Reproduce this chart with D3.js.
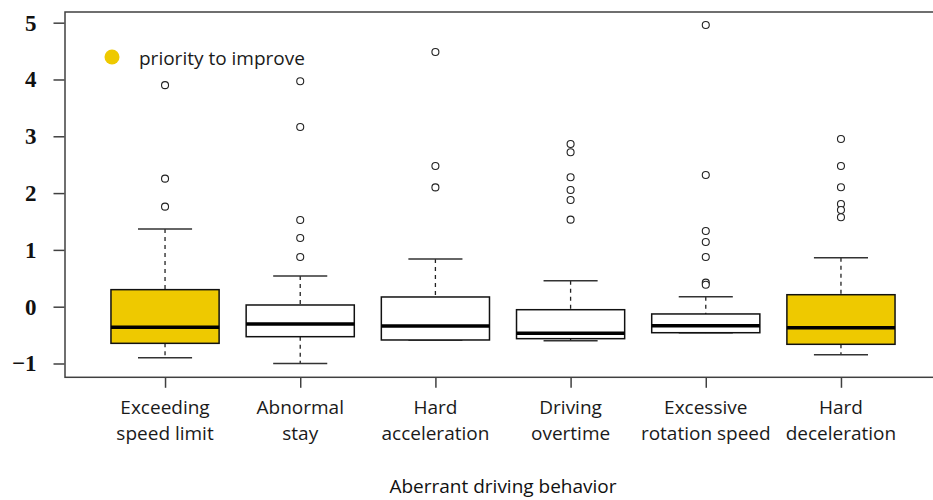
<!DOCTYPE html>
<html>
<head>
<meta charset="utf-8">
<script src="https://cdn.jsdelivr.net/npm/d3@7"></script>
<style>
  html, body { margin: 0; padding: 0; background: #fff; }
  svg { display: block; }
</style>
</head>
<body>
<svg id="chart" width="933" height="500"></svg>
<script>
// Aberrant driving behaviour scores, one boxplot per behaviour
const categories = [
  "Exceeding speed limit",
  "Abnormal stay",
  "Hard acceleration",
  "Driving overtime",
  "Excessive rotation speed",
  "Hard deceleration"
];
const labelLine1 = ["Exceeding", "Abnormal", "Hard", "Driving", "Excessive", "Hard"];
const labelLine2 = ["speed limit", "stay", "acceleration", "overtime", "rotation speed", "deceleration"];

const whiskerLow  = [-0.90, -1.00, -0.586, -0.60, -0.458, -0.845];
const q1          = [-0.645, -0.528, -0.586, -0.563, -0.458, -0.662];
const median      = [-0.363, -0.305, -0.340, -0.469, -0.334, -0.370];
const q3          = [0.300, 0.030, 0.171, -0.053, -0.128, 0.211];
const whiskerHigh = [1.368, 0.540, 0.840, 0.458, 0.176, 0.863];
const outliers = [
  [3.90, 2.254, 1.761],
  [3.97, 3.164, 1.526, 1.21, 0.875],
  [4.484, 2.477, 2.10],
  [2.864, 2.72, 2.278, 2.055, 1.878, 1.532],
  [4.96, 2.319, 1.333, 1.139, 0.875, 0.423, 0.387],
  [2.952, 2.477, 2.102, 1.808, 1.702, 1.574]
];
const priority = [true, false, false, false, false, true];

const yTicks = [-1, 0, 1, 2, 3, 4, 5];
const legendLabel = "priority to improve";
const xTitle = "Aberrant driving behavior";

const gold = "#EEC900";

const svg = d3.select("#chart");

// positions 1..6 with the usual 4% padding around 0.5..6.5
const x = d3.scaleLinear().domain([0.26, 6.74]).range([65, 941]);
const y = d3.scaleLinear().domain([-1.243, 5.188]).range([377.3, 12]);

const boxW = x(1.4) - x(1);       // half box width (0.4 units)
const capW = x(1.2) - x(1);       // half staple width (0.2 units)

// frame
svg.append("rect")
  .attr("x", x(0.26)).attr("y", y(5.188))
  .attr("width", x(6.74) - x(0.26))
  .attr("height", y(-1.243) - y(5.188))
  .attr("fill", "none")
  .attr("stroke", "#404040")
  .attr("stroke-width", 1.5);

// y axis
const yAxis = svg.append("g")
  .attr("transform", `translate(${x(0.26) - 0.5},0)`)
  .call(d3.axisLeft(y).tickValues(yTicks).tickSize(11).tickPadding(17).tickFormat(d3.format("d")));
yAxis.select(".domain").remove();
yAxis.selectAll(".tick line").attr("stroke", "#404040").attr("stroke-width", 1.5);
yAxis.selectAll(".tick text")
  .attr("fill", "#111")
  .style("font-family", "'Liberation Serif', 'Times New Roman', serif")
  .style("font-weight", "bold")
  .style("font-size", "23px");

// x axis ticks
const idx = d3.range(1, categories.length + 1);
const xAxis = svg.append("g")
  .attr("transform", `translate(0,${y(-1.243) + 0.5})`)
  .call(d3.axisBottom(x).tickValues(idx).tickSize(10).tickFormat(""));
xAxis.select(".domain").remove();
xAxis.selectAll(".tick line").attr("stroke", "#404040").attr("stroke-width", 1.5);

const labelFont = "'Open Sans', 'Noto Sans', sans-serif";

// two-line category labels
const labels = svg.append("g")
  .style("font-family", labelFont)
  .style("font-size", "19px")
  .attr("fill", "#1a1a1a")
  .attr("text-anchor", "middle");
labels.selectAll("text.l1").data(idx).join("text")
  .attr("class", "l1")
  .attr("x", d => x(d)).attr("y", 414)
  .text((d, i) => labelLine1[i]);
labels.selectAll("text.l2").data(idx).join("text")
  .attr("class", "l2")
  .attr("x", d => x(d)).attr("y", 440)
  .text((d, i) => labelLine2[i]);

svg.append("text")
  .attr("x", x(3.5)).attr("y", 493)
  .attr("text-anchor", "middle")
  .attr("fill", "#111")
  .style("font-family", labelFont)
  .style("font-size", "19px")
  .text(xTitle);

// boxes
const boxes = svg.append("g").selectAll("g").data(idx).join("g");

// dashed whiskers
boxes.append("line")
  .attr("x1", d => x(d)).attr("x2", d => x(d))
  .attr("y1", (d, i) => y(whiskerHigh[i])).attr("y2", (d, i) => y(q3[i]))
  .attr("stroke", "#222").attr("stroke-width", 1.3).attr("stroke-dasharray", "4,4");
boxes.append("line")
  .attr("x1", d => x(d)).attr("x2", d => x(d))
  .attr("y1", (d, i) => y(q1[i])).attr("y2", (d, i) => y(whiskerLow[i]))
  .attr("stroke", "#222").attr("stroke-width", 1.3).attr("stroke-dasharray", "4,4");

// staples
boxes.append("line")
  .attr("x1", d => x(d) - capW).attr("x2", d => x(d) + capW)
  .attr("y1", (d, i) => y(whiskerHigh[i])).attr("y2", (d, i) => y(whiskerHigh[i]))
  .attr("stroke", "#333").attr("stroke-width", 1.5);
boxes.append("line")
  .attr("x1", d => x(d) - capW).attr("x2", d => x(d) + capW)
  .attr("y1", (d, i) => y(whiskerLow[i])).attr("y2", (d, i) => y(whiskerLow[i]))
  .attr("stroke", "#333").attr("stroke-width", 1.5);

// box body
boxes.append("rect")
  .attr("x", d => x(d) - boxW)
  .attr("width", boxW * 2)
  .attr("y", (d, i) => y(q3[i]))
  .attr("height", (d, i) => y(q1[i]) - y(q3[i]))
  .attr("fill", (d, i) => priority[i] ? gold : "#fff")
  .attr("stroke", "#111").attr("stroke-width", 1.5);

// median
boxes.append("line")
  .attr("x1", d => x(d) - boxW).attr("x2", d => x(d) + boxW)
  .attr("y1", (d, i) => y(median[i])).attr("y2", (d, i) => y(median[i]))
  .attr("stroke", "#000").attr("stroke-width", 3.5);

// outliers
boxes.each(function(d, i) {
  d3.select(this).selectAll("circle").data(outliers[i]).join("circle")
    .attr("cx", x(d)).attr("cy", v => y(v)).attr("r", 3.5)
    .attr("fill", "#fff").attr("stroke", "#222").attr("stroke-width", 1.1);
});

// legend
const legend = svg.append("g");
legend.append("circle").attr("cx", 112).attr("cy", 57).attr("r", 7.5).attr("fill", gold);
legend.append("text")
  .attr("x", 139).attr("y", 65)
  .attr("fill", "#1a1a1a")
  .style("font-family", labelFont)
  .style("font-size", "19px")
  .text(legendLabel);
</script>
</body>
</html>
